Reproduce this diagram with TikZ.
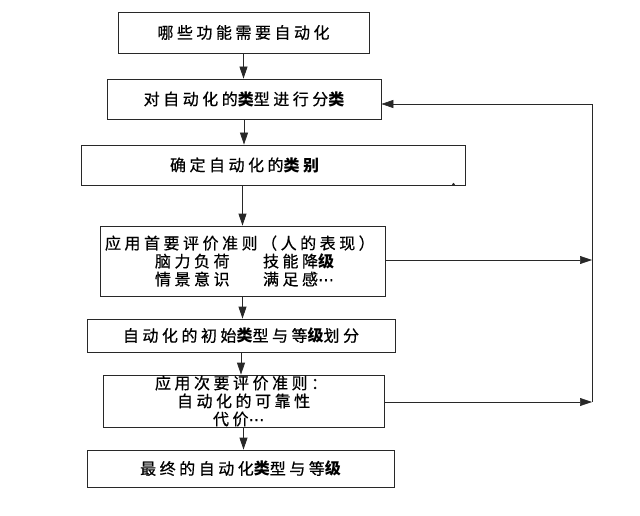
\documentclass[tikz,border=0pt]{standalone}
\usepackage{fontspec}
\usepackage{xcolor}
\usepackage{tikz}
\usetikzlibrary{arrows.meta, positioning, calc}
\newfontfamily\cjk[LetterSpace=22, UprightFeatures={FakeBold=0.6}]{Noto Sans CJK SC}
\newfontfamily\dotsfont[FakeBold=0.6]{DejaVu Sans}
\definecolor{scanline}{RGB}{40, 40, 40}
\newcommand{\bd}[1]{{\bfseries #1}}
\newcommand{\etcdots}{{\dotsfont ⋯}}

\begin{document}
\begin{tikzpicture}[
    x=1pt, y=-1pt,
    every node/.style={font=\cjk\fontsize{16}{18}\selectfont},
    box/.style={rectangle, draw=scanline, line width=0.8pt, inner sep=0pt,
                align=center},
    arrow/.style={-{Triangle[length=12pt, width=8pt]}, line width=0.8pt, color=scanline},
    loopline/.style={line width=0.6pt, color=scanline}
]
\useasboundingbox (0,0) rectangle (640,516);

% Nodes
\node[box, minimum width=251pt, minimum height=41pt] (which) at (243.5,32.5) {哪些功能需要自动化};
\node[box, minimum width=274pt, minimum height=40pt] (sort) at (244,99) {对自动化的\bd{类}型进行分\bd{类}};
\node[box, text width=384pt, minimum height=40pt, align=left] (decide) at (273,165)
    {\hspace*{89pt}确定自动化的\bd{类别}};
\node[box, text width=275pt, inner xsep=5pt, minimum height=70pt, align=left] (first) at (242.5,261)
    {应用首要评价准则（人的表现）\\
     \hspace*{50pt}\makebox[108pt][l]{脑力负荷}技能降\bd{级}\\
     \hspace*{50pt}\makebox[108pt][l]{情景意识}满足感\etcdots};
\node[box, minimum width=308pt, minimum height=33pt] (initial) at (241,335.5) {自动化的初始\bd{类}型与等\bd{级}划分};
\node[box, text width=281pt, minimum height=52pt, align=left] (second) at (243.5,401)
    {\hspace*{52pt}应用次要评价准则：\\
     \hspace*{74pt}自动化的可靠性\\
     \hspace*{110pt}代价\etcdots};
\node[box, minimum width=307pt, minimum height=37pt] (final) at (240.5,468.5) {最终的自动化\bd{类}型与等\bd{级}};

% feedback loop on the right
\coordinate (rtop) at (592,104);
\coordinate (rmid) at (592,260);
\coordinate (rbot) at (592,402);

% Edges
\draw[arrow] (which) -- (which.south |- sort.north);
\draw[arrow] (sort) -- (sort.south |- decide.north);
\draw[arrow] (first.north |- decide.south) -- (first.north);
\draw[arrow] (first) -- (first.south |- initial.north);
\draw[arrow] (initial) -- (initial.south |- second.north);
\draw[arrow] (second) -- (second.south |- final.north);

\draw[arrow, line width=0.6pt] (first.east |- rmid) -- (rmid);
\draw[arrow, line width=0.6pt] (second.east |- rbot) -- (rbot);
\draw[loopline] (rbot) -- (rtop);
\draw[arrow, line width=0.6pt] (rtop) -- (rtop -| sort.east);

\fill[scanline] (decide.south east) ++(-12,-1) circle (1.5pt);

\end{tikzpicture}
\end{document}
